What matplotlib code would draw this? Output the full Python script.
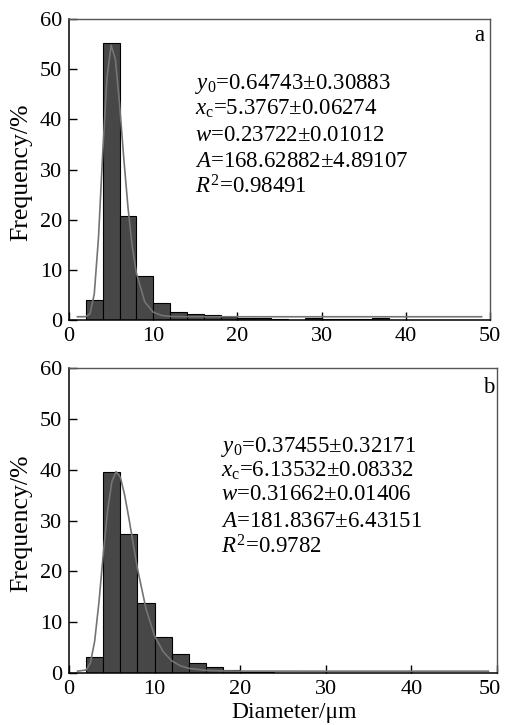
import numpy as np
import matplotlib
matplotlib.use("Agg")
import matplotlib.pyplot as plt
from matplotlib.transforms import ScaledTranslation

plt.rcParams['font.family'] = ['Liberation Serif', 'DejaVu Serif']
plt.rcParams['mathtext.fontset'] = 'custom'
plt.rcParams['mathtext.rm'] = 'Liberation Serif'
plt.rcParams['mathtext.it'] = 'Liberation Serif:italic'

# histogram bins (left edges, width 2 um)
bin_left = np.arange(2, 50, 2)

freq_a = [4.0, 55.2, 20.7, 8.8, 3.3, 1.5, 1.1, 0.9, 0.6, 0.5, 0.4, 0.3,
          0.1, 0.4, 0.3, 0.3, 0.2, 0.4, 0, 0, 0, 0, 0, 0]
freq_b = [3.2, 39.5, 27.3, 13.7, 7.0, 3.7, 1.9, 1.1, 0.6, 0.2, 0.2, 0.1,
          0.1, 0.1, 0.1, 0.1, 0.1, 0.1, 0, 0, 0, 0, 0, 0]

# fitted log-normal curves
fit_x_a = [1, 2, 2.5, 3, 3.5, 4, 4.5, 5, 5.5, 6, 6.5, 7, 7.5, 8, 9, 10, 11, 12, 14, 20, 30, 49]
fit_y_a = [0.65, 0.67, 1.26, 5.2, 16.4, 33.2, 48.2, 54.8, 52.0, 43.1, 32.3, 22.5,
           14.8, 9.35, 3.6, 1.57, 0.92, 0.72, 0.65, 0.65, 0.65, 0.65]
fit_x_b = [1, 2, 2.5, 3, 3.5, 4, 4.5, 5, 5.5, 6, 6.5, 7, 7.5, 8, 9, 10, 11, 12, 13, 14,
           16, 18, 20, 30, 49]
fit_y_b = [0.37, 0.59, 2.0, 6.3, 14.0, 23.4, 31.9, 37.6, 39.6, 38.5, 35.0, 30.4,
           25.4, 20.5, 12.6, 7.3, 4.2, 2.4, 1.43, 0.92, 0.52, 0.41, 0.38, 0.37, 0.37]

params_a = [r'$y_0$=0.64743±0.30883', r'$x_\mathrm{c}$=5.3767±0.06274',
            r'$w$=0.23722±0.01012', r'$A$=168.62882±4.89107', r'$R^2$=0.98491']
params_b = [r'$y_0$=0.37455±0.32171', r'$x_\mathrm{c}$=6.13532±0.08332',
            r'$w$=0.31662±0.01406', r'$A$=181.8367±6.43151', r'$R^2$=0.9782']

fig = plt.figure(figsize=(5.06, 7.25), dpi=100)
ax_a = fig.add_axes([0.1364, 0.5586, 0.832, 0.4152])
ax_b = fig.add_axes([0.1364, 0.0717, 0.8458, 0.4207])


def draw_panel(ax, freq, fx, fy, params, text_x, text_ys, letter, letter_pos, ylab_x):
    ax.bar(bin_left, freq, width=2, align='edge', color='#474747',
           edgecolor='black', linewidth=0.8, zorder=2)
    ax.plot(fx, fy, color='#747474', lw=1.2, zorder=3)
    ax.set_xlim(0, 50)
    ax.set_ylim(0, 60)
    ax.set_xticks(range(0, 51, 10))
    ax.set_yticks(range(0, 61, 10))
    ax.tick_params(direction='in', length=6, width=1, labelsize=16,
                   top=False, right=False, pad=5)
    for side in ['left', 'bottom']:
        ax.spines[side].set_color('black')
        ax.spines[side].set_linewidth(1.1)
    for side in ['top', 'right']:
        ax.spines[side].set_color('#555555')
        ax.spines[side].set_linewidth(1.0)
    for s, y in zip(params, text_ys):
        ax.text(text_x, y, s, transform=ax.transAxes, fontsize=16.5,
                va='baseline', ha='left')
    ax.text(letter_pos[0], letter_pos[1], letter, transform=ax.transAxes,
            fontsize=16.5, ha='right', va='baseline')
    ax.set_ylabel('Frequency/%', fontsize=18.5)
    ax.yaxis.set_label_coords(ylab_x, 0.49)


draw_panel(ax_a, freq_a, fit_x_a, fit_y_a, params_a, 0.299,
           [0.767, 0.681, 0.595, 0.508, 0.419], 'a', (0.986, 0.927), -0.088)
draw_panel(ax_b, freq_b, fit_x_b, fit_y_b, params_b, 0.355,
           [0.725, 0.643, 0.567, 0.479, 0.393], 'b', (0.995, 0.918), -0.087)
ax_b.set_xlabel('Diameter/μm', fontsize=17)
ax_b.xaxis.set_label_coords(0.526, -0.095)

# last x tick label of panel b sits a little left of the spine, as in the original
last = ax_b.xaxis.get_major_ticks()[-1].label1
last.set_transform(last.get_transform() + ScaledTranslation(-0.07, 0, fig.dpi_scale_trans))

fig.savefig('out.png', dpi=100)
